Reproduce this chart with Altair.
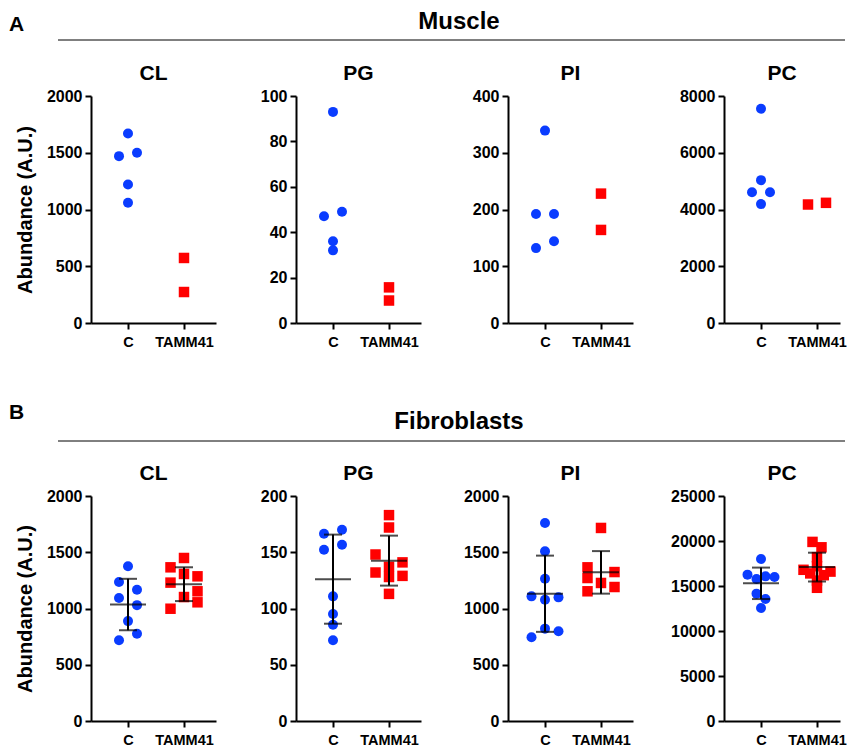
import altair as alt
import pandas as pd

lipids = ["CL", "PG", "PI", "PC"]
groups = ["C", "TAMM41"]
tissues = ["Muscle", "Fibroblasts"]
letters = ["A", "B"]
colors = ["#0a3cff", "#ff0000"]
shapes = ["circle", "square"]

# ---- Muscle (A.U.) ----
mus_cl_c = [1670, 1500, 1470, 1220, 1060]
mus_cl_t = [573, 273]
mus_pg_c = [93, 49, 47, 36, 32]
mus_pg_t = [15.7, 9.9]
mus_pi_c = [339, 192, 192, 144, 132]
mus_pi_t = [228, 164]
mus_pc_c = [7550, 5035, 4610, 4610, 4190]
mus_pc_t = [4176, 4235]

# beeswarm slot of each point (scatter column)
mus_cl_c_slot = [0, 1, -1, 0, 0]
mus_cl_t_slot = [0, 0]
mus_pg_c_slot = [0, 1, -1, 0, 0]
mus_pg_t_slot = [0, 0]
mus_pi_c_slot = [0, -1, 1, 1, -1]
mus_pi_t_slot = [0, 0]
mus_pc_c_slot = [0, 0, -1, 1, 0]
mus_pc_t_slot = [-1, 1]

# ---- Fibroblasts (A.U.) ----
fib_cl_c = [1375, 1236, 1166, 1093, 1030, 888, 776, 718]
fib_cl_t = [1449, 1366, 1307, 1286, 1230, 1153, 1102, 1055, 998]
fib_pg_c = [170, 166.5, 156.7, 152.3, 110.8, 95.1, 85.6, 71.7]
fib_pg_t = [183, 172, 148, 141, 137, 132, 129, 128, 113]
fib_pi_c = [1760, 1509, 1265, 1108, 1099, 1078, 821, 797, 744]
fib_pi_t = [1716, 1366, 1324, 1271, 1227, 1191, 1153]
fib_pc_c = [18000, 16260, 16070, 16000, 15780, 14150, 13560, 12560]
fib_pc_t = [19900, 19300, 18200, 17200, 16800, 16600, 16400, 16200, 15600, 14800]

fib_cl_c_slot = [0, -1, 1, -1, 1, 0, 1, -1]
fib_cl_t_slot = [0, -1.5, 0, 1.5, -1.5, 1.5, 0, 1.5, -1.5]
fib_pg_c_slot = [1, -1, 1, -1, 0, 0, 0, 0]
fib_pg_t_slot = [0, 0, -1.5, 1.5, 0, -1.5, 1.5, 0, 0]
fib_pi_c_slot = [0, 0, 0, -1.5, 1.5, 0, 0, 1.5, -1.5]
fib_pi_t_slot = [0, -1.5, 1.5, -1.5, 0, 1.5, -1.5]
fib_pc_c_slot = [0, -1.5, 0.5, 1.5, -0.5, -0.5, 0.5, 0]
fib_pc_t_slot = [-0.5, 0.5, 0, 0, -1.5, 1.5, -0.75, 0.75, 0, 0]

# y-axis tick values per panel
y_ticks = {
    "Muscle": {
        "CL": [0, 500, 1000, 1500, 2000],
        "PG": [0, 20, 40, 60, 80, 100],
        "PI": [0, 100, 200, 300, 400],
        "PC": [0, 2000, 4000, 6000, 8000],
    },
    "Fibroblasts": {
        "CL": [0, 500, 1000, 1500, 2000],
        "PG": [0, 50, 100, 150, 200],
        "PI": [0, 500, 1000, 1500, 2000],
        "PC": [0, 5000, 10000, 15000, 20000, 25000],
    },
}

series = {
    ("Muscle", "CL"): (mus_cl_c, mus_cl_c_slot, mus_cl_t, mus_cl_t_slot),
    ("Muscle", "PG"): (mus_pg_c, mus_pg_c_slot, mus_pg_t, mus_pg_t_slot),
    ("Muscle", "PI"): (mus_pi_c, mus_pi_c_slot, mus_pi_t, mus_pi_t_slot),
    ("Muscle", "PC"): (mus_pc_c, mus_pc_c_slot, mus_pc_t, mus_pc_t_slot),
    ("Fibroblasts", "CL"): (fib_cl_c, fib_cl_c_slot, fib_cl_t, fib_cl_t_slot),
    ("Fibroblasts", "PG"): (fib_pg_c, fib_pg_c_slot, fib_pg_t, fib_pg_t_slot),
    ("Fibroblasts", "PI"): (fib_pi_c, fib_pi_c_slot, fib_pi_t, fib_pi_t_slot),
    ("Fibroblasts", "PC"): (fib_pc_c, fib_pc_c_slot, fib_pc_t, fib_pc_t_slot),
}

rows = []
for (tissue, lipid), (cv, cs, tv, ts) in series.items():
    for grp, vals, slots in ((groups[0], cv, cs), (groups[1], tv, ts)):
        for v, s in zip(vals, slots):
            rows.append({"tissue": tissue, "lipid": lipid, "group": grp,
                         "gidx": groups.index(grp) + 1, "value": v, "slot": s})
df = pd.DataFrame(rows)

FONT = "Liberation Sans"
STEP = 56.0          # px between the two categories
C_OFF = 37.0         # px from y axis to category C
SLOT = 9.0 / STEP    # one beeswarm slot in x units
WIDTHS = [125, 125, 125, 116]
EXTENTS = [82, 60, 67, 71]
HEIGHTS = {"Muscle": 227, "Fibroblasts": 225}
label_expr = "datum.value == 1 ? '%s' : '%s'" % (groups[0], groups[1])


def panel(tissue, lipid, i):
    W, E, H = WIDTHS[i], EXTENTS[i], HEIGHTS[tissue]
    ticks = y_ticks[tissue][lipid]
    xdom = [1 - C_OFF / STEP, 2 + (W - C_OFF - STEP) / STEP]
    xscale = alt.Scale(domain=xdom, nice=False, zero=False)
    yscale = alt.Scale(domain=[0, ticks[-1]], nice=False, zero=True)
    xaxis = alt.Axis(values=[1, 2], labelExpr=label_expr, title=None,
                     grid=False, labelPadding=6, labelFontSize=14.5)
    yaxis_kw = dict(values=ticks, format="d", minExtent=E, maxExtent=E, grid=False)
    if i == 0:
        yaxis = alt.Axis(title="Abundance (A.U.)", titleX=-66, titleY=H / 2,
                         titleBaseline="middle", titleFontSize=20,
                         titleFontWeight="bold", titleFont=FONT, **yaxis_kw)
    else:
        yaxis = alt.Axis(title=None, **yaxis_kw)
    base = alt.Chart(df).transform_filter(
        (alt.datum.tissue == tissue) & (alt.datum.lipid == lipid)
    )
    pts = base.transform_calculate(
        xpos="datum.gidx + datum.slot * %f" % SLOT
    ).mark_point(filled=True, opacity=1, strokeWidth=0).encode(
        x=alt.X("xpos:Q", scale=xscale, axis=xaxis),
        y=alt.Y("value:Q", scale=yscale, axis=yaxis),
        color=alt.Color("group:N", scale=alt.Scale(domain=groups, range=colors), legend=None),
        shape=alt.Shape("group:N", scale=alt.Scale(domain=groups, range=shapes), legend=None),
        size=alt.Size("group:N", scale=alt.Scale(domain=groups, range=[100, 110]), legend=None),
    )
    layers = [pts]
    if tissue == "Fibroblasts":
        agg = base.transform_aggregate(
            m="mean(value)", sd="stdev(value)", groupby=["gidx"]
        ).transform_calculate(lo="datum.m - datum.sd", hi="datum.m + datum.sd")
        xg = alt.X("gidx:Q", scale=xscale, axis=xaxis)
        vline = agg.mark_rule(color="black", strokeWidth=2).encode(
            x=xg, y=alt.Y("lo:Q", scale=yscale, axis=yaxis), y2="hi:Q")
        lo_t = agg.mark_tick(color="black", orient="horizontal", size=18, thickness=2).encode(
            x=xg, y=alt.Y("lo:Q", scale=yscale, axis=yaxis))
        hi_t = agg.mark_tick(color="black", orient="horizontal", size=18, thickness=2).encode(
            x=xg, y=alt.Y("hi:Q", scale=yscale, axis=yaxis))
        m_t = agg.mark_tick(color="black", orient="horizontal", size=36, thickness=2).encode(
            x=xg, y=alt.Y("m:Q", scale=yscale, axis=yaxis))
        layers += [vline, lo_t, hi_t, m_t]
    return alt.layer(*layers).properties(
        width=W, height=H,
        title=alt.TitleParams(text=lipid, fontSize=21, fontWeight="bold", font=FONT,
                              offset=4, anchor="middle", color="black"),
    )


# header coordinates are relative to the first panel's plot origin
HW = 754


def header(tissue, letter, H, y_title, y_rule, y_letter):
    hd = pd.DataFrame({"title": [tissue], "letter": [letter]})
    base = alt.Chart(hd).properties(width=HW, height=H)
    t = base.mark_text(fontSize=24, fontWeight="bold", font=FONT, align="center",
                       baseline="middle", color="black").encode(
        text="title:N", x=alt.value(368), y=alt.value(y_title))
    l = base.mark_text(fontSize=21, fontWeight="bold", font=FONT, align="left",
                       baseline="middle", color="black").encode(
        text="letter:N", x=alt.value(-82), y=alt.value(y_letter))
    r = base.mark_rule(color="black", strokeWidth=1).encode(
        x=alt.value(-33), x2=alt.value(HW), y=alt.value(y_rule))
    return alt.layer(t, l, r)


def row(tissue):
    return alt.hconcat(*[panel(tissue, lp, i) for i, lp in enumerate(lipids)],
                       spacing=20).resolve_scale(x="independent", y="independent")


chart = alt.vconcat(
    header(tissues[0], letters[0], 34, 14, 32, 17),
    row(tissues[0]),
    header(tissues[1], letters[1], 70, 52, 71, 43),
    row(tissues[1]),
    spacing=21,
).resolve_scale(x="independent", y="independent").properties(
    padding={"left": 1, "top": 0, "right": 0, "bottom": 0}
).configure_view(stroke=None).configure_axis(
    domainColor="black", domainWidth=2, tickColor="black", tickWidth=2, tickSize=6,
    labelFont=FONT, labelFontWeight="bold", labelFontSize=16, labelColor="black",
    labelPadding=3, titleColor="black",
)

chart.save("out.html", embed_options={"renderer": "svg", "actions": False})
